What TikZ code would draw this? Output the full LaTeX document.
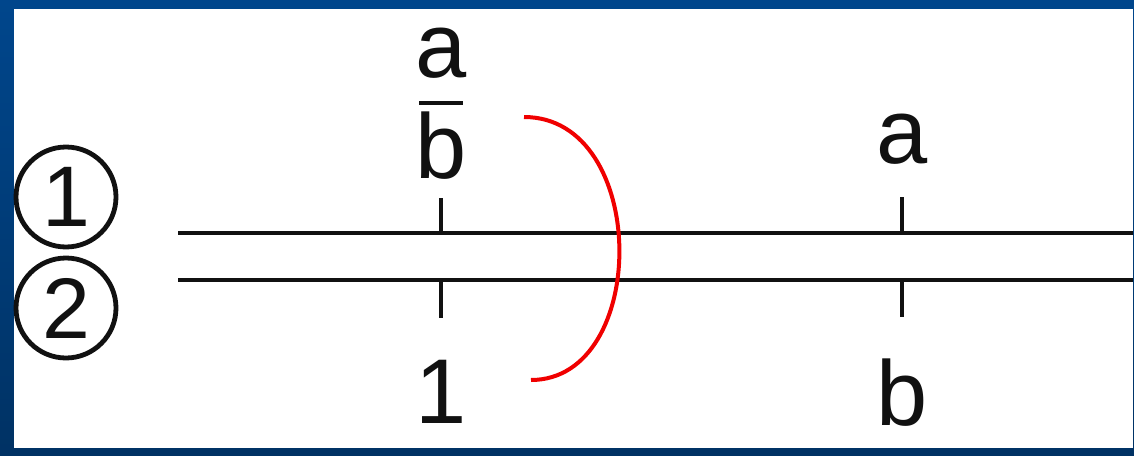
\documentclass[tikz,border=0pt]{standalone}
\usepackage{fontspec}
\setmainfont{Liberation Sans}
\usepackage{tikz}
\usetikzlibrary{positioning,calc}
\definecolor{frame}{RGB}{0,70,140}
\definecolor{framedark}{RGB}{0,50,100}
\definecolor{ink}{HTML}{111111}
\definecolor{cross}{RGB}{240,0,0}
\tikzset{
  strand/.style={draw=ink,line width=2.4pt},
  tick/.style={draw=ink,line width=2pt},
  lbl/.style={anchor=base,inner sep=0pt,text=ink,font=\fontsize{46}{50}\selectfont},
  num/.style={circle,draw=ink,line width=2.4pt,minimum size=50pt,inner sep=0pt,text=ink,
    font=\fontsize{43}{46}\selectfont},
  arcline/.style={draw=cross,line width=2pt},
}
\begin{document}
\begin{tikzpicture}[x=0.5pt,y=-0.5pt]
    % frame
    \shade[top color=frame,bottom color=framedark] (0,0) rectangle (1134,455);
    \fill[white] (14,9) rectangle (1133,448);
    \useasboundingbox (0,0) rectangle (1134,455);
    % strand numbers
    \node[num] (n1) at (66,197) {1};
    \node[num] (n2) at (66,308) {2};
    % strands
    \coordinate (s1l) at (178,233);
    \coordinate (s1r) at (1133,233);
    \coordinate (s2l) at (178,280);
    \coordinate (s2r) at (1133,280);
    \draw[strand] (s1l) -- (s1r);
    \draw[strand] (s2l) -- (s2r);
    % loci
    \coordinate (p1) at (441,233);
    \coordinate (q1) at (441,280);
    \coordinate (p2) at (902,233);
    \coordinate (q2) at (902,280);
    \draw[tick] (p1) -- ++(0,-35);
    \draw[tick] (q1) -- ++(0,38);
    \draw[tick] (p2) -- ++(0,-36);
    \draw[tick] (q2) -- ++(0,37);
    % labels
    \node[lbl] (a1) at (441,77) {a};
    \node[lbl] (b1) at (441,178) {b};
    \draw[ink,line width=2.2pt] (419,103) -- (463,103);
    \node[lbl] (one) at (441,423) {1};
    \node[lbl] (a2) at (902,163) {a};
    \node[lbl] (b2) at (902,425) {b};
    % crossover
    \coordinate (c1) at (524,117);
    \coordinate (c2) at (531,380);
    \draw[arcline] (c1) .. controls (650,117) and (650,380) .. (c2);
\end{tikzpicture}
\end{document}
